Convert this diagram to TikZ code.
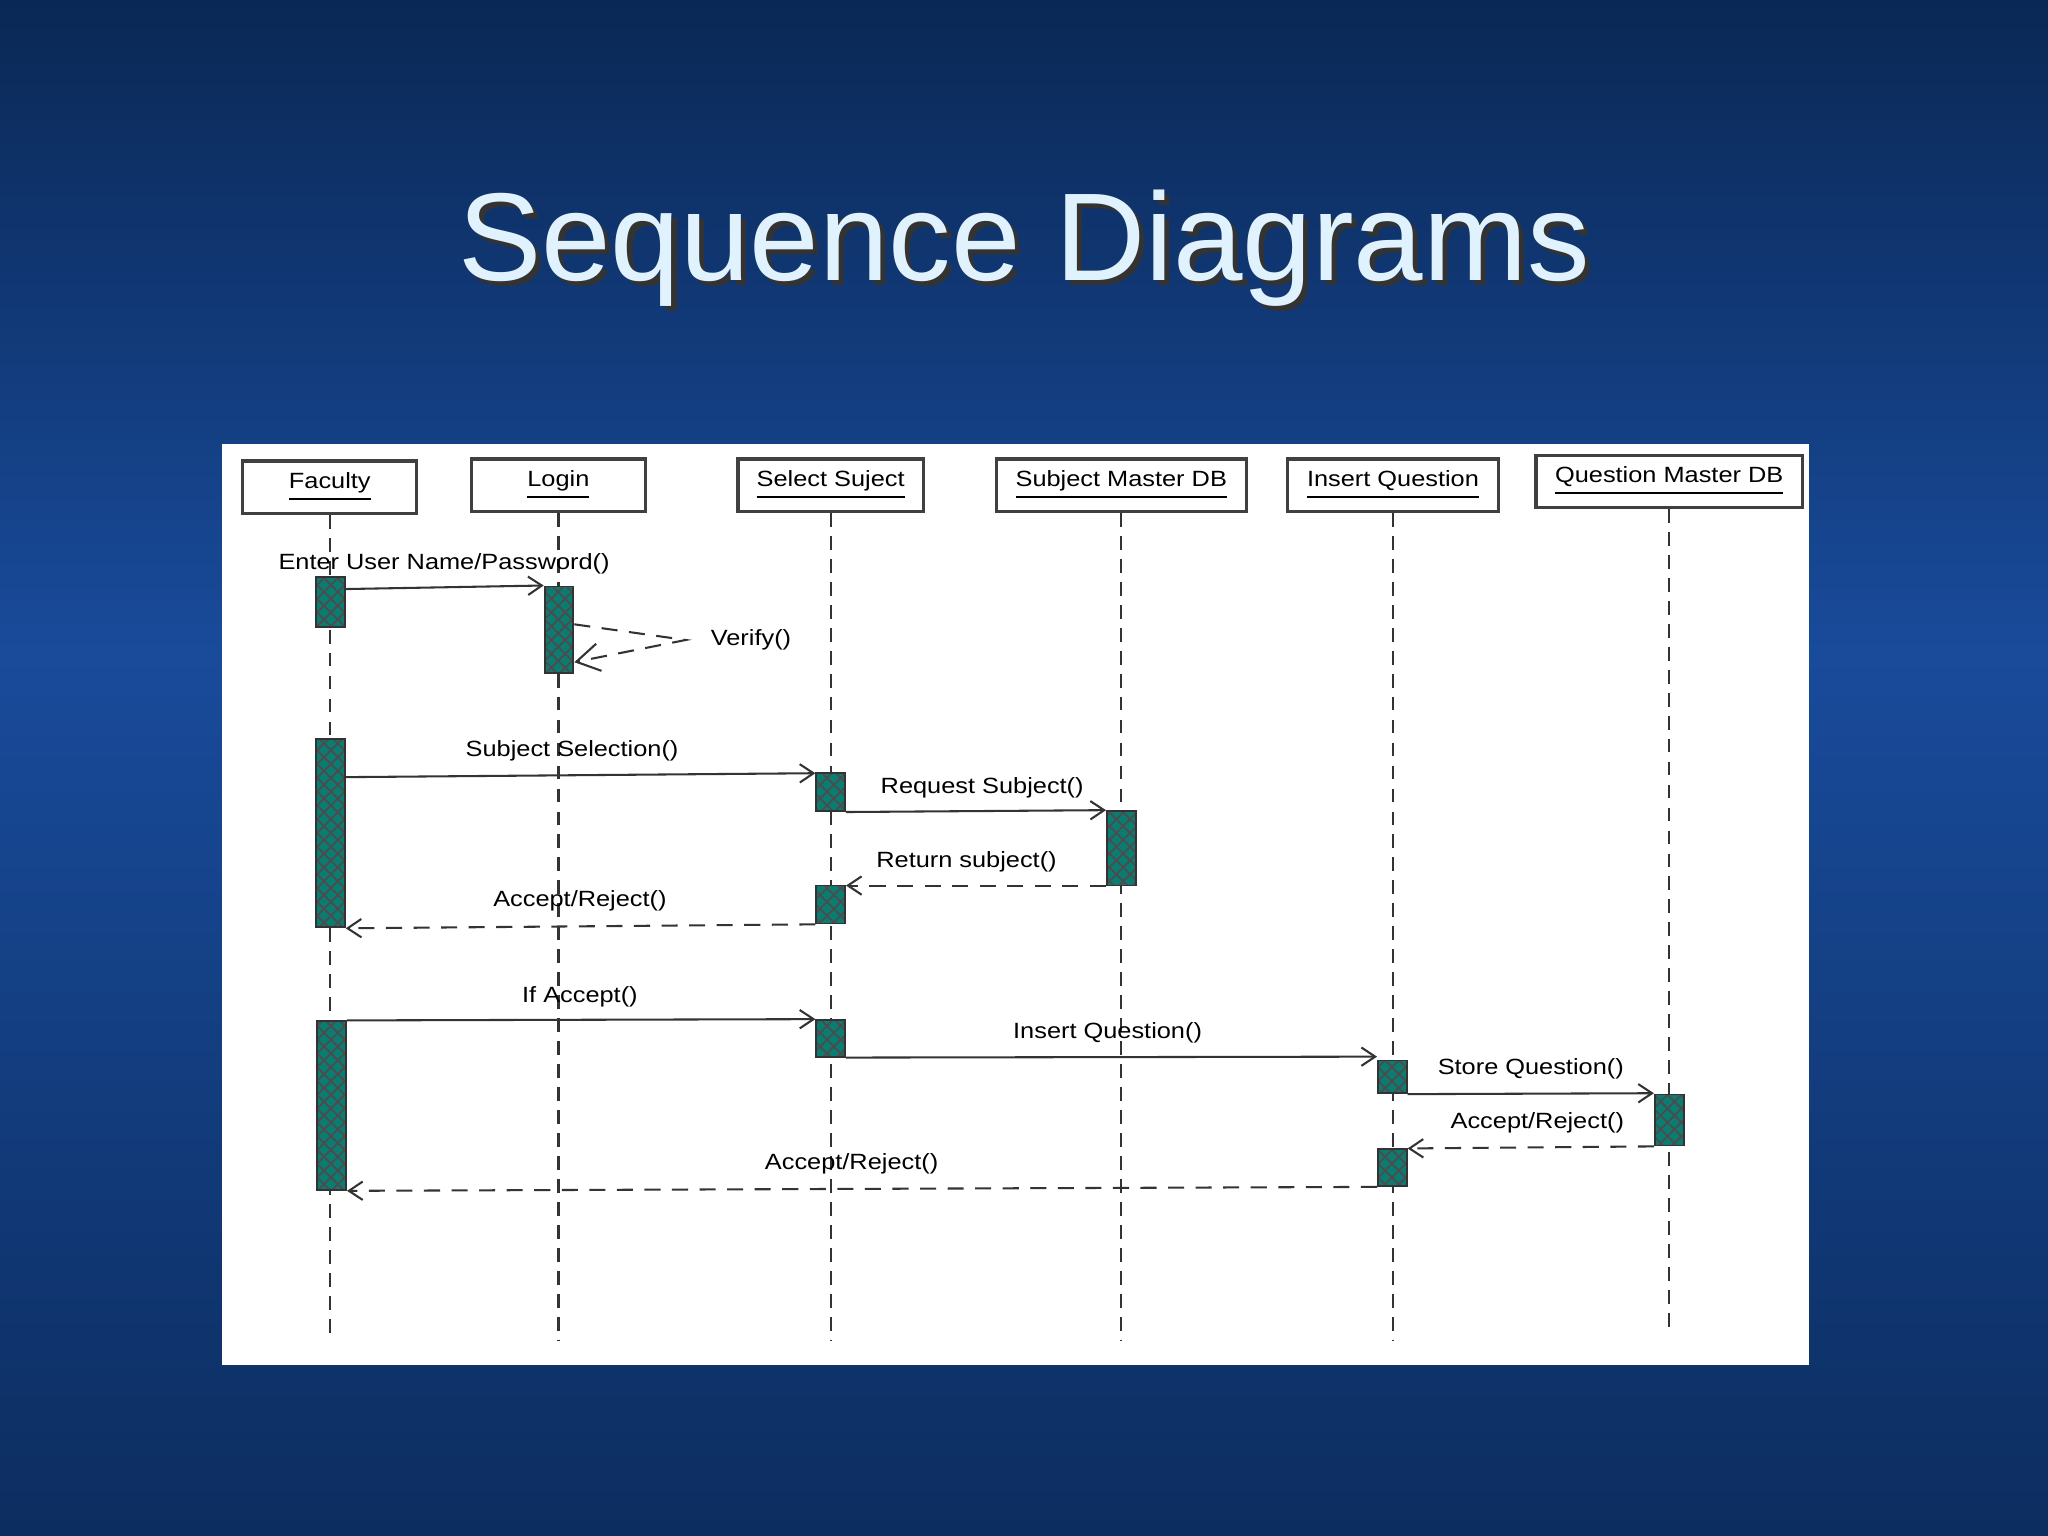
\documentclass[tikz,border=0pt]{standalone}
\usepackage{fontspec}
\setmainfont{Liberation Sans}
\usetikzlibrary{arrows.meta}
\usetikzlibrary{patterns}
\definecolor{actfill}{RGB}{10,125,115}
\definecolor{titlecol}{RGB}{225,242,255}
\tikzset{
	head/.style = {draw=black!75, fill=white, line width=0.7pt, minimum height=0.4cm, inner sep=1pt},
	headtxt/.style = {font=\fontsize{4.8}{5.5}\selectfont, inner sep=0pt, xscale=1.15},
	act/.style = {draw=black!80, preaction={fill=actfill}, pattern=crosshatch, pattern color=black!70, minimum width=0.22cm, inner sep=0pt, line width=0.4pt},
	life/.style = {dashed, black!80, line width=0.5pt, dash pattern=on 3pt off 2pt},
	msg/.style = {-{Straight Barb[length=3pt,width=4pt]}, black!80, line width=0.45pt},
	ret/.style = {msg, dash pattern=on 3.5pt off 2.5pt},
	lbl/.style = {font=\fontsize{4.8}{5.5}\selectfont, inner sep=0pt, xscale=1.15}
}
\begin{document}
\begin{tikzpicture}[x=0.01cm, y=-0.01cm]
		\useasboundingbox (0,0) rectangle (1568,1176);
		% background
		\shade[top color={rgb,255:red,10;green,40;blue,85}, bottom color={rgb,255:red,25;green,75;blue,155}] (0,0) rectangle (1568,500);
		\shade[top color={rgb,255:red,25;green,75;blue,155}, bottom color={rgb,255:red,12;green,45;blue,95}] (0,500) rectangle (1568,1176);
		
		% title
		\node[font=\fontsize{27.2}{30}\selectfont, text=black!80] at (788,194) {Sequence Diagrams};
		\node[font=\fontsize{27.2}{30}\selectfont, text=titlecol] (title) at (784,190) {Sequence Diagrams};
		
		% panel
		\fill[white] (170,340) rectangle (1385,1045);
		
		% lifeline heads
		\node[head, minimum width=1.33cm] (faculty) at (252.5,373) {};
		\node[head, minimum width=1.33cm] (login) at (427.5,371.5) {};
		\node[head, minimum width=1.42cm] (select) at (636,371.5) {};
		\node[head, minimum width=1.91cm] (subjdb) at (858.5,371.5) {};
		\node[head, minimum width=1.61cm] (insert) at (1066.5,371.5) {};
		\node[head, minimum width=2.04cm] (questdb) at (1278,368.5) {};
		\node[headtxt] at (faculty) {\underline{Faculty}};
		\node[headtxt] at (login) {\underline{Login}};
		\node[headtxt] at (select) {\underline{Select Suject}};
		\node[headtxt] at (subjdb) {\underline{Subject Master DB}};
		\node[headtxt] at (insert) {\underline{Insert Question}};
		\node[headtxt] at (questdb) {\underline{Question Master DB}};
		
		% lifelines
		\draw[life] (faculty) -- (faculty |- 0,1027);
		\draw[life] (login) -- (login |- 0,1027);
		\draw[life] (select) -- (select |- 0,1027);
		\draw[life] (subjdb) -- (subjdb |- 0,1027);
		\draw[life] (insert) -- (insert |- 0,1027);
		\draw[life] (questdb) -- (questdb |- 0,1022);
		
		% activations
		\node[act, minimum height=0.38cm] (f1) at (253,461) {};
		\node[act, minimum height=1.44cm] (f2) at (253,638) {};
		\node[act, minimum height=1.29cm] (f3) at (254,846.5) {};
		\node[act, minimum height=0.66cm] (l1) at (428,482) {};
		\node[act, minimum height=0.29cm] (s1) at (636,606.5) {};
		\node[act, minimum height=0.29cm] (s2) at (636,692.5) {};
		\node[act, minimum height=0.28cm] (s3) at (636,795) {};
		\node[act, minimum height=0.57cm] (d1) at (858.5,649.5) {};
		\node[act, minimum height=0.25cm] (i1) at (1066,824.5) {};
		\node[act, minimum height=0.28cm] (i2) at (1066,894) {};
		\node[act, minimum height=0.39cm] (q1) at (1278,857.5) {};
		
		% messages
		\draw[msg] (f1.east |- 0,451) -- (l1.north west);
		\node[lbl] (m1) at (340,432) {Enter User Name/Password()};
		\draw[ret, -{Straight Barb[length=5pt,width=6pt]}] (l1.east |- 0,478) -- (525,490) -- (l1.east |- 0,507);
		\node[lbl] (m2) at (575,490) {Verify()};
		\draw[msg] (f2.east |- 0,595) -- (s1.west |- 0,592);
		\node[lbl] (m3) at (438,575) {Subject Selection()};
		\draw[msg] (s1.south east) -- (d1.north west);
		\node[lbl] (m4) at (752,603) {Request Subject()};
		\draw[ret] (d1.west |- 0,678) -- (s2.east |- 0,678);
		\node[lbl] (m5) at (740,660) {Return subject()};
		\draw[ret] (s2.south west) -- (f2.south east);
		\node[lbl] (m6) at (444,690) {Accept/Reject()};
		\draw[msg] (f3.north east) -- (s3.north west);
		\node[lbl] (m7) at (444,763) {If Accept()};
		\draw[msg] (s3.south east) -- (i1.west |- 0,809);
		\node[lbl] (m8) at (848,791) {Insert Question()};
		\draw[msg] (i1.south east) -- (q1.west |- 0,837);
		\node[lbl] (m9) at (1172,818) {Store Question()};
		\draw[ret] (q1.south west) -- (i2.north east);
		\node[lbl] (m10) at (1177,860) {Accept/Reject()};
		\draw[ret] (i2.south west) -- (f3.south east);
		\node[lbl] (m11) at (652,891) {Accept/Reject()};
\end{tikzpicture}
\end{document}
